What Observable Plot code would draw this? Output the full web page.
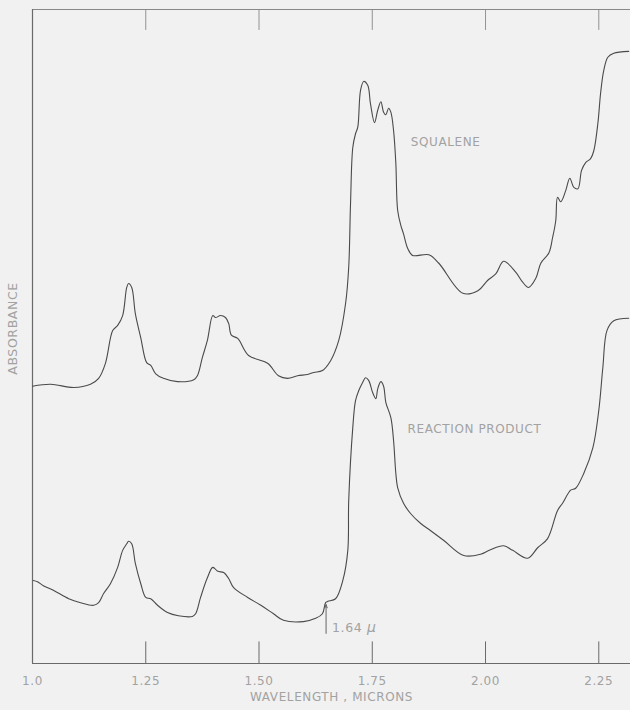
<!DOCTYPE html>
<html>
<head>
<meta charset="utf-8">
<script src="https://cdn.jsdelivr.net/npm/d3@7"></script>
<script src="https://cdn.jsdelivr.net/npm/@observablehq/plot@0.6"></script>
<style>
  html, body { margin: 0; padding: 0; background: #f1f1f1; }
  #chart svg { display: block; }
  #chart svg text { letter-spacing: 0.6px; }
</style>
</head>
<body>
<div id="chart"></div>
<script>
// Wavelength (microns) of the x-axis ticks and their printed labels
const tickValues = [1.0, 1.25, 1.5, 1.75, 2.0, 2.25];
const tickLabels = ["1.0", "1.25", "1.50", "1.75", "2.00", "2.25"];

// Squalene spectrum: wavelength (µ) and relative absorbance
const squaleneWavelength = [1.000,1.040,1.091,1.128,1.146,1.161,1.177,1.188,1.199,1.208,1.212,1.219,1.227,1.239,1.252,1.261,1.272,1.289,1.320,1.356,1.364,1.375,1.386,1.398,1.404,1.415,1.426,1.433,1.439,1.453,1.477,1.519,1.543,1.563,1.585,1.607,1.621,1.640,1.658,1.676,1.691,1.698,1.702,1.707,1.713,1.718,1.724,1.731,1.740,1.746,1.755,1.762,1.769,1.775,1.780,1.786,1.791,1.797,1.802,1.806,1.813,1.819,1.828,1.839,1.875,1.897,1.950,1.983,2.005,2.023,2.040,2.067,2.082,2.095,2.111,2.122,2.140,2.148,2.155,2.159,2.166,2.177,2.186,2.195,2.204,2.212,2.221,2.232,2.239,2.248,2.254,2.261,2.270,2.283,2.316];
const squaleneAbsorbance = [0.424,0.427,0.422,0.427,0.436,0.459,0.509,0.517,0.532,0.575,0.581,0.575,0.535,0.498,0.460,0.456,0.443,0.436,0.431,0.434,0.440,0.468,0.494,0.532,0.529,0.532,0.529,0.520,0.502,0.497,0.471,0.459,0.440,0.436,0.440,0.442,0.445,0.448,0.463,0.494,0.550,0.606,0.703,0.789,0.810,0.820,0.876,0.890,0.884,0.856,0.827,0.846,0.859,0.843,0.839,0.849,0.843,0.815,0.765,0.693,0.670,0.657,0.635,0.624,0.625,0.612,0.566,0.570,0.586,0.596,0.615,0.598,0.583,0.575,0.589,0.612,0.628,0.651,0.677,0.713,0.706,0.723,0.742,0.728,0.726,0.754,0.766,0.772,0.784,0.826,0.872,0.907,0.927,0.933,0.936];

// Reaction product spectrum: wavelength (µ) and relative absorbance
const productWavelength = [1.002,1.011,1.024,1.046,1.080,1.106,1.135,1.146,1.157,1.172,1.188,1.199,1.208,1.212,1.219,1.227,1.239,1.250,1.261,1.276,1.298,1.322,1.353,1.360,1.371,1.386,1.398,1.409,1.422,1.433,1.444,1.475,1.504,1.532,1.554,1.598,1.625,1.640,1.647,1.652,1.669,1.685,1.696,1.698,1.707,1.713,1.720,1.729,1.735,1.742,1.751,1.758,1.762,1.769,1.775,1.780,1.791,1.797,1.802,1.806,1.819,1.835,1.857,1.879,1.908,1.952,1.989,2.011,2.040,2.060,2.093,2.115,2.137,2.159,2.170,2.188,2.199,2.217,2.237,2.250,2.259,2.268,2.283,2.316];
const productAbsorbance = [0.127,0.125,0.119,0.112,0.099,0.093,0.089,0.093,0.107,0.122,0.147,0.173,0.183,0.187,0.183,0.153,0.122,0.101,0.099,0.089,0.078,0.073,0.072,0.076,0.101,0.131,0.147,0.141,0.139,0.130,0.116,0.101,0.089,0.076,0.066,0.064,0.069,0.076,0.093,0.095,0.099,0.127,0.173,0.249,0.361,0.402,0.417,0.430,0.437,0.433,0.414,0.405,0.420,0.431,0.424,0.399,0.376,0.341,0.291,0.269,0.245,0.229,0.214,0.203,0.188,0.165,0.167,0.174,0.180,0.173,0.161,0.177,0.191,0.234,0.245,0.265,0.268,0.291,0.330,0.387,0.453,0.509,0.524,0.528];

// Text annotations
const curveLabels = ["SQUALENE", "REACTION PRODUCT"];
const curveLabelWavelength = [1.835, 1.828];
const curveLabelAbsorbance = [0.797, 0.359];
const markerWavelength = 1.648;
const markerNumber = "1.64";
const markerUnit = "µ";

const squalene = squaleneWavelength.map((w, i) => ({w, a: squaleneAbsorbance[i]}));
const product = productWavelength.map((w, i) => ({w, a: productAbsorbance[i]}));
const labelRows = curveLabels.map((t, i) => ({t, w: curveLabelWavelength[i], a: curveLabelAbsorbance[i]}));

const ink = "#4a4a4a";
const axisInk = "#6a6a6a";
const textInk = "#a2a2a2";
const font = "'DejaVu Sans', sans-serif";

const chart = Plot.plot({
  width: 630,
  height: 710,
  marginLeft: 32,
  marginRight: 0,
  marginTop: 9,
  marginBottom: 47,
  style: {background: "#f1f1f1", fontFamily: font},
  x: {type: "linear", domain: [1.0, 2.32], axis: null},
  y: {type: "linear", domain: [0, 1], axis: null},
  marks: [
    // frame lines
    Plot.ruleY([0], {stroke: axisInk, strokeWidth: 1.2}),
    Plot.ruleY([1], {stroke: "#888", strokeWidth: 1}),
    Plot.ruleX([1.0], {stroke: axisInk, strokeWidth: 1.2}),
    // bottom ticks pointing up
    Plot.ruleX(tickValues.slice(1), {y1: 0, y2: 0.033, stroke: axisInk, strokeWidth: 1}),
    // top ticks pointing down
    Plot.ruleX(tickValues.slice(1), {y1: 1, y2: 0.968, stroke: "#888", strokeWidth: 0.9}),
    // tick labels
    Plot.text(tickValues, {x: d => d, text: (d, i) => tickLabels[i], frameAnchor: "bottom", dy: 21, fill: textInk, fontSize: 12, fontFamily: font}),
    // x axis title
    Plot.text(["WAVELENGTH , MICRONS"], {frameAnchor: "bottom", dy: 37, fill: textInk, fontSize: 12, fontFamily: font}),
    // y axis title
    Plot.text(["ABSORBANCE"], {frameAnchor: "left", textAnchor: "middle", dx: -20, dy: -8, rotate: -90, fill: textInk, fontSize: 12.5, fontFamily: font}),
    // spectra
    Plot.line(squalene, {x: "w", y: "a", stroke: ink, strokeWidth: 1.1, curve: "catmull-rom"}),
    Plot.line(product, {x: "w", y: "a", stroke: ink, strokeWidth: 1.1, curve: "catmull-rom"}),
    // curve labels
    Plot.text(labelRows, {x: "w", y: "a", text: "t", textAnchor: "start", fill: textInk, fontSize: 12, fontFamily: font}),
    // 1.64 µ marker
    Plot.arrow([{x: markerWavelength}], {x1: "x", x2: "x", y1: 0.046, y2: 0.09, stroke: "#666", strokeWidth: 1, headLength: 5, headAngle: 40}),
    Plot.text([markerNumber], {x: markerWavelength, y: 0.055, dx: 6, text: d => d, textAnchor: "start", fill: textInk, fontSize: 12.5, fontFamily: font}),
    Plot.text([markerUnit], {x: markerWavelength, y: 0.055, dx: 41, text: d => d, textAnchor: "start", fill: textInk, fontSize: 14, fontStyle: "italic", fontFamily: font})
  ]
});
document.getElementById("chart").appendChild(chart);
</script>
</body>
</html>
